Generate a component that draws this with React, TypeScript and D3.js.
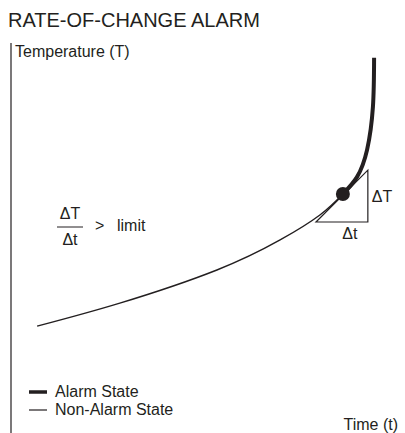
import React from 'react';
import * as d3 from 'd3';

const W = 405;
const H = 433;

// curve, in (time, temperature) units 0..10
const nonAlarmT = [0.67, 2.79, 5.28, 6.9, 7.92, 8.51];
const nonAlarmV = [2.74, 3.33, 4.18, 4.95, 5.59, 6.13];
const alarmT = [8.51, 8.87, 9.13, 9.28, 9.31];
const alarmV = [6.13, 6.56, 7.26, 8.36, 9.62];

// rate triangle (dt, dT) and the point where the limit is crossed
const triT = [7.82, 9.15, 9.15];
const triV = [5.41, 6.74, 5.41];
const crossT = 8.51;
const crossV = 6.13;

const legendLabels = ['Alarm State', 'Non-Alarm State'];

const ink = '#231f20';
const font = 'Liberation Sans, Arial, Helvetica, sans-serif';

const App: React.FC = () => {
  const x = d3.scaleLinear().domain([0, 10]).range([11, 401]);
  const y = d3.scaleLinear().domain([0, 10]).range([433, 43]);

  const line = d3
    .line<[number, number]>()
    .x((d) => x(d[0]))
    .y((d) => y(d[1]))
    .curve(d3.curveNatural);

  const thin = nonAlarmT.map((t, i) => [t, nonAlarmV[i]] as [number, number]);
  const thick = alarmT.map((t, i) => [t, alarmV[i]] as [number, number]);
  const tri = triT.map((t, i) => [x(t), y(triV[i])]);
  const triPath = 'M' + tri.map((p) => p.join(',')).join('L') + 'Z';

  return (
    <svg
      width={W}
      height={H}
      style={{ position: 'absolute', left: 0, top: 0, background: '#fff' }}
      fontFamily={font}
      fill={ink}
    >
      <text x={8} y={27} fontSize={20}>RATE-OF-CHANGE ALARM</text>

      {/* y axis */}
      <line x1={x(0)} x2={x(0)} y1={y(10)} y2={H} stroke={ink} strokeWidth={1.2} />
      <text x={15} y={57} fontSize={16}>Temperature (T)</text>
      <text x={398} y={430} fontSize={16} textAnchor="end">Time (t)</text>

      {/* rate triangle */}
      <path d={triPath} fill="none" stroke={ink} strokeWidth={1.2} />
      <text x={tri[1][0] + 4} y={(tri[1][1] + tri[2][1]) / 2 + 6} fontSize={16}>ΔT</text>
      <text x={(tri[0][0] + tri[2][0]) / 2 + 8} y={tri[2][1] + 17} fontSize={16} textAnchor="middle">Δt</text>

      {/* curve */}
      <path d={line(thin) ?? ''} fill="none" stroke={ink} strokeWidth={1.4} />
      <path d={line(thick) ?? ''} fill="none" stroke={ink} strokeWidth={4} strokeLinecap="butt" />
      <circle cx={x(crossT)} cy={y(crossV)} r={7} fill={ink} />

      {/* formula */}
      <text x={70} y={219} fontSize={16} textAnchor="middle">ΔT</text>
      <line x1={57} x2={83} y1={227} y2={227} stroke={ink} strokeWidth={1} />
      <text x={70} y={245} fontSize={16} textAnchor="middle">Δt</text>
      <text x={95} y={231} fontSize={16}>{'>'}</text>
      <text x={117} y={231} fontSize={16}>limit</text>

      {/* legend */}
      {legendLabels.map((lab, i) => (
        <g key={lab} transform={`translate(29,${392 + i * 18})`}>
          <line x1={0} x2={18} y1={0} y2={0} stroke={ink} strokeWidth={i === 0 ? 3.5 : 1.2} />
          <text x={26} y={5} fontSize={16}>{lab}</text>
        </g>
      ))}
    </svg>
  );
};

export default App;
